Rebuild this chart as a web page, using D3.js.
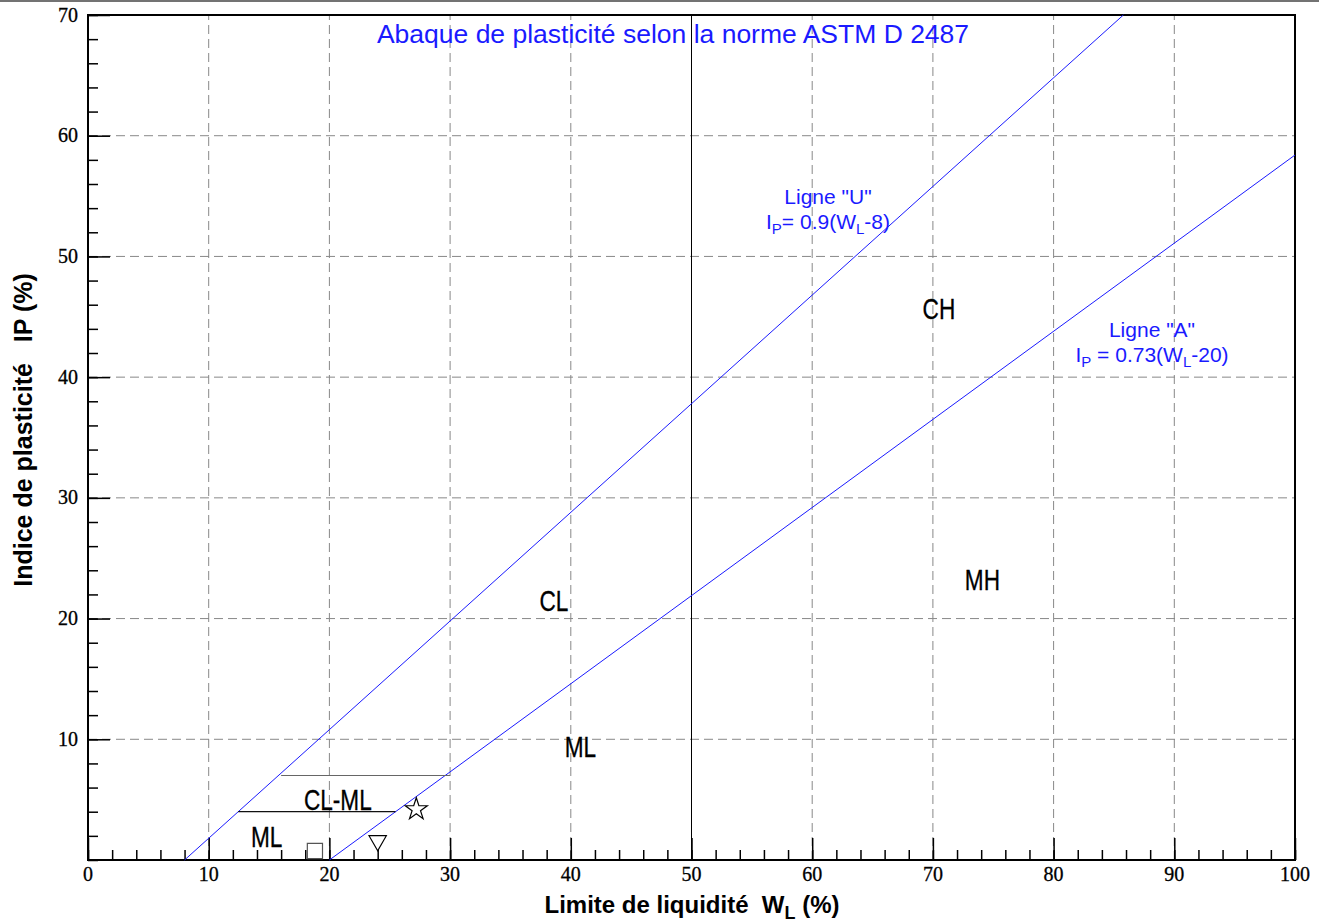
<!DOCTYPE html>
<html><head><meta charset="utf-8">
<script src="https://cdn.jsdelivr.net/npm/d3@7"></script>
<style>body{margin:0;background:#fff}</style>
</head><body>
<svg id="c" width="1319" height="922"></svg>
<script>
const xTicks = [0,10,20,30,40,50,60,70,80,90,100];
const yTicks = [10,20,30,40,50,60,70];
const yTickLabels = ["10","20","30","40","50","60","70"];
// Ligne U: IP = 0.9(WL-8); Ligne A: IP = 0.73(WL-20)
const lineU = [[8,0],[85.78,70]];
const lineA = [[20,0],[100,58.4]];
const hLine4 = [[12.44,4],[25.48,4]];
const hLine7 = [[16,7],[30,7]];
const zoneLabels = [
  {t:"CH", wl:70.5, ip:44.8},
  {t:"CL", wl:38.6, ip:20.65},
  {t:"MH", wl:74.1, ip:22.4},
  {t:"ML", wl:40.8, ip:8.5},
  {t:"CL-ML", wl:20.7, ip:4.15},
  {t:"ML", wl:14.8, ip:1.1}
];
const samples = [
  {sym:"square", wl:18.8, ip:0.75},
  {sym:"triangle", wl:24.0, ip:1.6},
  {sym:"star", wl:27.2, ip:4.2}
];

const svg = d3.select("#c");
const x = d3.scaleLinear().domain([0,100]).range([88,1295]);
const y = d3.scaleLinear().domain([0,70]).range([860,15]);

// top page line
svg.append("line").attr("x1",0).attr("x2",1319).attr("y1",1).attr("y2",1)
  .attr("stroke","#444").attr("stroke-width",1.5);

// grid
const g = svg.append("g");
xTicks.filter(d=>d>0&&d<100&&d!==50).forEach(d=>{
  g.append("line").attr("x1",x(d)).attr("x2",x(d)).attr("y1",y(0)).attr("y2",y(70))
   .attr("stroke","#888").attr("stroke-width",1).attr("stroke-dasharray","9,5");
});
yTicks.filter(d=>d<70).forEach(d=>{
  g.append("line").attr("x1",x(0)).attr("x2",x(100)).attr("y1",y(d)).attr("y2",y(d))
   .attr("stroke","#888").attr("stroke-width",1).attr("stroke-dasharray","9,5");
});
// solid vertical at 50
g.append("line").attr("x1",x(50)).attr("x2",x(50)).attr("y1",y(0)).attr("y2",y(70))
  .attr("stroke","#000").attr("stroke-width",1);

// axes
const xMinor = d3.range(0,101,2);
const yMinor = d3.range(0,71,2);
const styleAx = s=>{s.select(".domain").remove();s.selectAll("line").attr("stroke","#000").attr("stroke-width",1.5);};
svg.append("g").attr("transform",`translate(0,${y(0)})`)
  .call(d3.axisTop(x).tickValues(xMinor).tickSize(10).tickFormat("")).call(styleAx);
svg.append("g").attr("transform",`translate(0,${y(0)})`)
  .call(d3.axisTop(x).tickValues(xTicks).tickSize(22).tickFormat("")).call(styleAx);
svg.append("g").attr("transform",`translate(${x(0)},0)`)
  .call(d3.axisRight(y).tickValues(yMinor).tickSize(10).tickFormat("")).call(styleAx);
svg.append("g").attr("transform",`translate(${x(0)},0)`)
  .call(d3.axisRight(y).tickValues(yTicks).tickSize(22).tickFormat("")).call(styleAx);

// tick labels
svg.append("g").selectAll("text").data(xTicks).join("text")
  .attr("x",d=>x(d)).attr("y",y(0)+21).attr("text-anchor","middle")
  .attr("font-family","Liberation Serif, serif").attr("font-size",20).attr("fill","#000")
  .attr("stroke","#000").attr("stroke-width",0.3)
  .text(d=>d);
svg.append("g").selectAll("text").data(yTicks).join("text")
  .attr("x",x(0)-10).attr("y",d=>y(d)+6.5).attr("text-anchor","end")
  .attr("font-family","Liberation Serif, serif").attr("font-size",20).attr("fill","#000")
  .attr("stroke","#000").attr("stroke-width",0.3)
  .text((d,i)=>yTickLabels[i]);

// frame
svg.append("rect").attr("x",x(0)).attr("y",y(70)).attr("width",x(100)-x(0)).attr("height",y(0)-y(70))
  .attr("fill","none").attr("stroke","#000").attr("stroke-width",2);

// lines
const ln = d3.line().x(d=>x(d[0])).y(d=>y(d[1]));
svg.append("path").attr("d",ln(lineU)).attr("stroke","#1a1aff").attr("stroke-width",1).attr("fill","none");
svg.append("path").attr("d",ln(lineA)).attr("stroke","#1a1aff").attr("stroke-width",1).attr("fill","none");
svg.append("path").attr("d",ln(hLine4)).attr("stroke","#111").attr("stroke-width",1.2).attr("fill","none");
svg.append("path").attr("d",ln(hLine7)).attr("stroke","#666").attr("stroke-width",1.2).attr("fill","none");

// zone labels (condensed)
svg.append("g").selectAll("text").data(zoneLabels).join("text")
  .attr("transform",d=>`translate(${x(d.wl)},${y(d.ip)}) scale(0.78,1)`)
  .attr("text-anchor","middle")
  .attr("font-family","Liberation Sans, Arial, sans-serif").attr("font-size",29)
  .attr("fill","#000").attr("stroke","#000").attr("stroke-width",0.3).text(d=>d.t);

// samples
const symMap = {square:d3.symbolSquare, triangle:d3.symbolTriangle, star:d3.symbolStar};
const symSize = {square:230, triangle:130, star:150};
svg.append("g").selectAll("path").data(samples).join("path")
  .attr("transform",d=>`translate(${x(d.wl)},${y(d.ip)})${d.sym==="triangle"?" rotate(180)":""}`)
  .attr("d",d=>d3.symbol(symMap[d.sym],symSize[d.sym])())
  .attr("fill","none").attr("stroke",d=>d.sym==="square"?"#555":"#000").attr("stroke-width",1.2);

// title
svg.append("text").attr("x",673).attr("y",43).attr("text-anchor","middle")
  .attr("font-family","Liberation Sans, Arial, sans-serif").attr("font-size",26.5).attr("fill","#1a1aff")
  .text("Abaque de plasticité selon la norme ASTM D 2487");

// line annotations
function annot(cx, cy, l1, coef, num){
  const t = svg.append("g").attr("font-family","Liberation Sans, Arial, sans-serif").attr("fill","#1a1aff").attr("font-size",21);
  t.append("text").attr("x",cx).attr("y",cy).attr("text-anchor","middle").text(l1);
  const t2 = t.append("text").attr("x",cx).attr("y",cy+25).attr("text-anchor","middle");
  t2.append("tspan").text("I");
  t2.append("tspan").attr("font-size",15).attr("dy",5).text("P");
  t2.append("tspan").attr("dy",-5).text(coef+"(W");
  t2.append("tspan").attr("font-size",15).attr("dy",5).text("L");
  t2.append("tspan").attr("dy",-5).text(num+")");
}
annot(828,204,'Ligne "U"',"= 0.9","-8");
annot(1152,337,'Ligne "A"'," = 0.73","-20");

// axis titles
const xt = svg.append("text").attr("x",692).attr("y",913).attr("text-anchor","middle")
  .attr("font-family","Liberation Sans, Arial, sans-serif").attr("font-weight","bold").attr("font-size",24).attr("fill","#000")
  .style("white-space","pre");
xt.append("tspan").text("Limite de liquidité  W");
xt.append("tspan").attr("font-size",18).attr("dy",6).text("L");
xt.append("tspan").attr("dy",-6).text(" (%)");
svg.append("text").attr("transform","translate(32,430) rotate(-90)").attr("text-anchor","middle")
  .attr("font-family","Liberation Sans, Arial, sans-serif").attr("font-weight","bold").attr("font-size",25).attr("fill","#000")
  .style("white-space","pre")
  .text("Indice de plasticité   IP (%)");
</script>
</body></html>
